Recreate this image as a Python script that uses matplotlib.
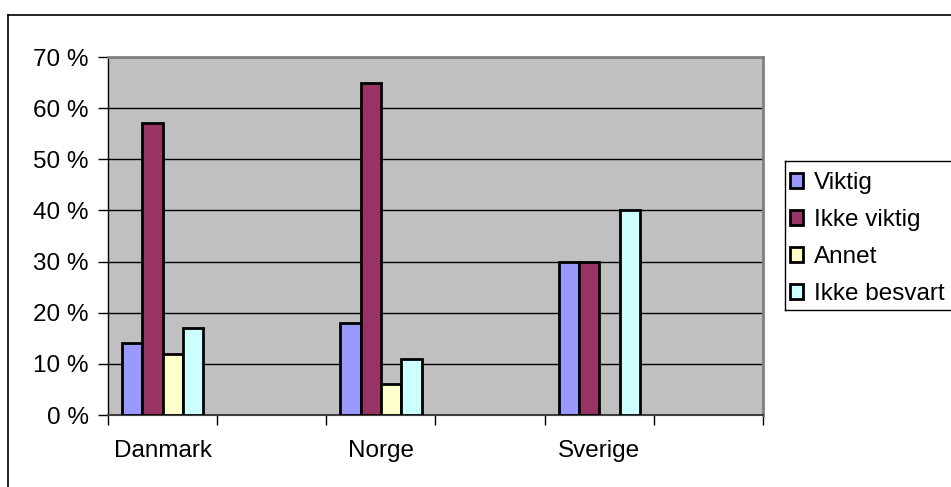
import matplotlib
matplotlib.use("Agg")
import matplotlib.pyplot as plt
import numpy as np
from matplotlib.lines import Line2D
from matplotlib.ticker import FuncFormatter

plt.rcParams['font.family'] = ['Liberation Sans', 'DejaVu Sans']

# Category slots along the x axis (blank slots are empty)
categories = ["Danmark", "", "Norge", "", "Sverige", ""]
series_names = ["Viktig", "Ikke viktig", "Annet", "Ikke besvart"]
viktig = [14, np.nan, 18, np.nan, 30, np.nan]
ikke_viktig = [57, np.nan, 65, np.nan, 30, np.nan]
annet = [12, np.nan, 6, np.nan, 0, np.nan]
ikke_besvart = [17, np.nan, 11, np.nan, 40, np.nan]
y_ticks = [0, 10, 20, 30, 40, 50, 60, 70]

series = [viktig, ikke_viktig, annet, ikke_besvart]
colors = ["#9999FF", "#993366", "#FFFFCC", "#CCFFFF"]

W, H = 951, 487
FS = 17.5
fig = plt.figure(figsize=(W / 100, H / 100), dpi=100)
ax = fig.add_axes([108 / W, 1 - 415 / H, (763 - 108) / W, (415 - 57) / H])
ax.set_facecolor("#C0C0C0")

x = np.arange(len(categories))
bw = 0.186
for i, (vals, col, name) in enumerate(zip(series, colors, series_names)):
    offs = (i - 1.5) * bw
    v = np.array(vals, dtype=float)
    mask = ~np.isnan(v) & (v > 0)
    ax.bar(x[mask] + offs, v[mask], width=bw, color=col, edgecolor="black",
           linewidth=2, zorder=3, label=name)

ax.set_xlim(-0.5, len(categories) - 0.5)
ax.set_ylim(0, 70)
ax.set_yticks(y_ticks)
ax.yaxis.set_major_formatter(FuncFormatter(lambda v, p: f"{int(v)} %"))
ax.grid(axis="y", color="black", linewidth=1, zorder=1)
ax.set_axisbelow(True)

# Tick marks between categories, labels centered in each slot
ax.set_xticks(np.arange(len(categories) + 1) - 0.5)
ax.set_xticklabels([])
ax.set_xticks(x, minor=True)
ax.set_xticklabels(categories, minor=True)
ax.tick_params(axis="x", which="major", length=7, width=1, color="black", direction="out")
ax.tick_params(axis="x", which="minor", length=0, pad=18, labelsize=FS)
ax.tick_params(axis="y", length=7, width=1, color="black", direction="out", pad=7, labelsize=FS)

for side in ["top", "right"]:
    ax.spines[side].set_color("#808080")
    ax.spines[side].set_linewidth(2)
ax.spines["left"].set_color("black")
ax.spines["left"].set_linewidth(1)
ax.spines["bottom"].set_color("#404040")
ax.spines["bottom"].set_linewidth(1.5)

# Outer chart border
fig.add_artist(Line2D([7.5 / W, 7.5 / W], [0, 1 - 14.5 / H], transform=fig.transFigure, color="black", lw=1.2))
fig.add_artist(Line2D([7.5 / W, 1.0], [1 - 14.5 / H, 1 - 14.5 / H], transform=fig.transFigure, color="black", lw=1.2))

# Legend with its own frame
handles, labels = ax.get_legend_handles_labels()
leg = fig.legend(handles, labels, loc="upper left", bbox_to_anchor=(790 / W, 1 - 172 / H),
                 frameon=False, fontsize=FS, handlelength=0.55, handleheight=0.55,
                 handletextpad=0.45, labelspacing=0.62, borderpad=0, borderaxespad=0)
fig.add_artist(Line2D([784.5 / W, 784.5 / W], [1 - 161 / H, 1 - 310 / H], transform=fig.transFigure, color="black", lw=1))
fig.add_artist(Line2D([784.5 / W, 1.0], [1 - 161 / H, 1 - 161 / H], transform=fig.transFigure, color="black", lw=1))
fig.add_artist(Line2D([784.5 / W, 1.0], [1 - 310 / H, 1 - 310 / H], transform=fig.transFigure, color="black", lw=1))

fig.savefig("out.png", dpi=100)
